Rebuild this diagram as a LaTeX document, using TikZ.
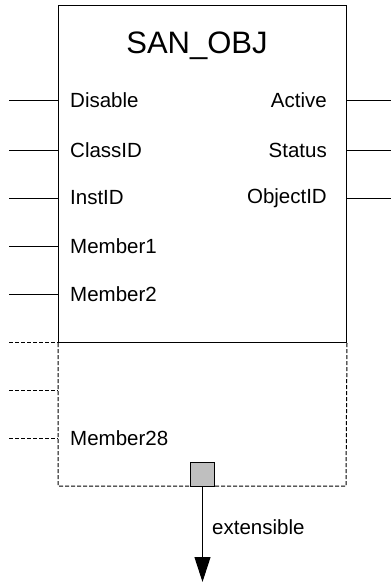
\documentclass[tikz,border=0pt]{standalone}
\usepackage{fontspec}
\setmainfont{Liberation Sans}
\usetikzlibrary{arrows.meta}
\begin{document}
\begin{tikzpicture}[x=1pt,y=-1pt,
  wire/.style={line width=1pt},
  dwire/.style={line width=1pt,dash pattern=on 4pt off 2pt},
  lbl/.style={inner sep=0pt,font=\fontsize{20.5}{24}\selectfont},
  ttl/.style={inner sep=0pt,font=\fontsize{31}{36}\selectfont},
  extbox/.style={draw,line width=1pt,fill=black!25,minimum size=24pt,inner sep=0pt}]
\useasboundingbox (0,0) rectangle (391,582);
% function block body
\node[draw,line width=1pt,minimum width=288pt,minimum height=337pt,inner sep=0pt,anchor=north west] (blk) at (58,5) {};
\node[ttl] (title) at (197,46) {SAN\_OBJ};
% extensible area below the block
\coordinate (ebl) at (58,486);
\coordinate (ebr) at (346,486);
\draw[dwire] (blk.south west) -- (ebl) -- (ebr) -- (blk.south east);
% inputs
\foreach \n/\y/\t in {i1/100/Disable,i2/150/ClassID,i3/198/InstID,i4/246/Member1,i5/294/Member2}{
  \node[lbl,anchor=west] (\n) at (70,\y) {\t};
  \coordinate (\n p) at (9,\y);
  \draw[wire] (\n p) -- (blk.west |- \n p);
}
% extension inputs
\coordinate (d1p) at (9,342);
\coordinate (d2p) at (9,390);
\coordinate (d3p) at (9,438);
\node[lbl,anchor=west] (d3) at (70,438) {Member28};
\foreach \n in {d1p,d2p,d3p}
  \draw[dwire] (\n) -- (ebl |- \n);
% outputs
\foreach \n/\y/\t in {o1/100/Active,o2/150/Status,o3/198/ObjectID}{
  \node[lbl,anchor=east] (\n) at (327,\y) {\t};
  \coordinate (\n p) at (391,\y);
  \draw[wire] (blk.east |- \n p) -- (\n p);
}
% extension handle and arrow
\node[extbox,anchor=south] (ext) at (202.5,486.5) {};
\coordinate (tip) at (202.5,582);
\draw[wire,-{Triangle[length=25pt,width=16pt]}] (ext.south) -- (tip);
\node[lbl,anchor=west] (extl) at (212,527) {extensible};
\end{tikzpicture}
\end{document}
